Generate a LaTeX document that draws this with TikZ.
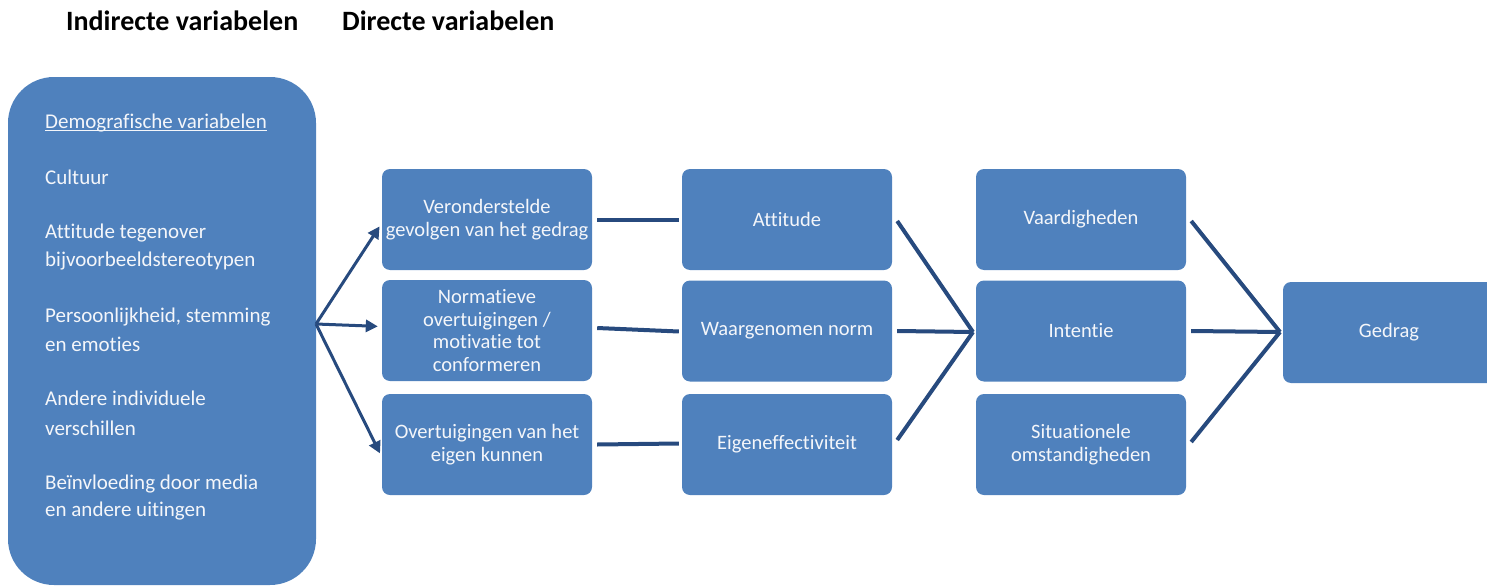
\documentclass[tikz,border=0pt]{standalone}
\usepackage{fontspec}
\setmainfont[Ligatures=NoCommon]{Carlito}
\usetikzlibrary{arrows.meta}
\definecolor{boxblue}{HTML}{4F81BD}
\definecolor{linkblue}{HTML}{274A7E}
\definecolor{txtwhite}{HTML}{F4F6FA}
\tikzset{
  box/.style={fill=boxblue, rounded corners=8pt, minimum width=210pt, minimum height=101pt,
    inner sep=1pt, align=center, text=txtwhite, font=\fontsize{20.5}{22.5}\selectfont},
  bigbox/.style={fill=boxblue, rounded corners=46pt, minimum width=308pt, minimum height=508pt, inner sep=0pt},
  ltext/.style={anchor=base west, inner sep=0pt, text=txtwhite, font=\fontsize{21}{23}\selectfont},
  title/.style={anchor=base west, inner sep=0pt, font=\fontsize{28}{30}\selectfont\bfseries},
  link/.style={draw=linkblue, line width=4pt},
  arr/.style={draw=linkblue, line width=3pt, -{Triangle[length=12pt,width=12pt]}, shorten >=4pt}
}
\begin{document}
\begin{tikzpicture}[x=1pt,y=-1pt]
\useasboundingbox (0,0) rectangle (1487,586);

% titles
\node[title] (t1) at (66,31) {Indirecte variabelen};
\node[title] (t2) at (342,31) {Directe variabelen};

% left box
\node[bigbox] (L) at (162,331) {};
\node[ltext] (l1) at (45,128.3) {Demografische variabelen};
\draw[txtwhite, line width=1.1pt] ([yshift=-2.2pt]l1.base west) -- ([yshift=-2.2pt]l1.base east);
\node[ltext] (l2) at (45,184) {Cultuur};
\node[ltext] (l3) at (45,238.3) {Attitude tegenover};
\node[ltext] (l4) at (45,266.7) {bijvoorbeeldstereotypen};
\node[ltext] (l5) at (45,322.3) {Persoonlijkheid, stemming};
\node[ltext] (l6) at (45,351) {en emoties};
\node[ltext] (l7) at (45,405.7) {Andere individuele};
\node[ltext] (l8) at (45,435) {verschillen};
\node[ltext] (l9) at (45,489.3) {Beïnvloeding door media};
\node[ltext] (l10) at (45,516.7) {en andere uitingen};

% column 2
\node[box] (c2a) at (487,219.5) {Veronderstelde\\gevolgen van het gedrag};
\node[box] (c2b) at (487,330.5) {Normatieve\\overtuigingen /\\motivatie tot\\conformeren};
\node[box] (c2c) at (487,444.5) {Overtuigingen van het\\eigen kunnen};

% column 3
\node[box] (c3a) at (787,219.5) {Attitude};
\node[box] (c3b) at (787,331) {Waargenomen norm};
\node[box] (c3c) at (787,444.5) {Eigeneffectiviteit};

% column 4
\node[box] (c4a) at (1081,219.5) {Vaardigheden};
\node[box] (c4b) at (1081,331) {Intentie};
\node[box] (c4c) at (1081,444.5) {Situationele\\omstandigheden};

% final
\node[box, minimum width=212pt] (g) at (1389,332.5) {Gedrag};

% connectors
\coordinate (src) at (316,324);
\coordinate (j1) at (973,332);
\coordinate (j2) at (1280,332);

\draw[arr] (src) -- ([yshift=-3.5pt]c2a.west);
\draw[arr] (src) -- ([yshift=4pt]c2b.west);
\draw[arr] (src) -- ([yshift=-12.5pt]c2c.west);

\draw[link] ([xshift=5pt,yshift=-0.5pt]c2a.east) -- ([xshift=-3pt,yshift=-0.5pt]c3a.west);
\draw[link] ([xshift=5pt,yshift=2.5pt]c2b.east) -- ([xshift=-3pt,yshift=-0.5pt]c3b.west);
\draw[link] ([xshift=5pt]c2c.east) -- ([xshift=-3pt,yshift=1pt]c3c.west);

\draw[link] ([xshift=5pt,yshift=-1.5pt]c3a.east) -- (j1);
\draw[link] ([xshift=5pt]c3b.east) -- (j1);
\draw[link] ([xshift=5pt,yshift=4.5pt]c3c.east) -- (j1);

\draw[link] ([xshift=5pt,yshift=-1.5pt]c4a.east) -- (j2);
\draw[link] ([xshift=5pt]c4b.east) -- (j2);
\draw[link] ([xshift=5pt,yshift=2.5pt]c4c.east) -- (j2);
\end{tikzpicture}
\end{document}
